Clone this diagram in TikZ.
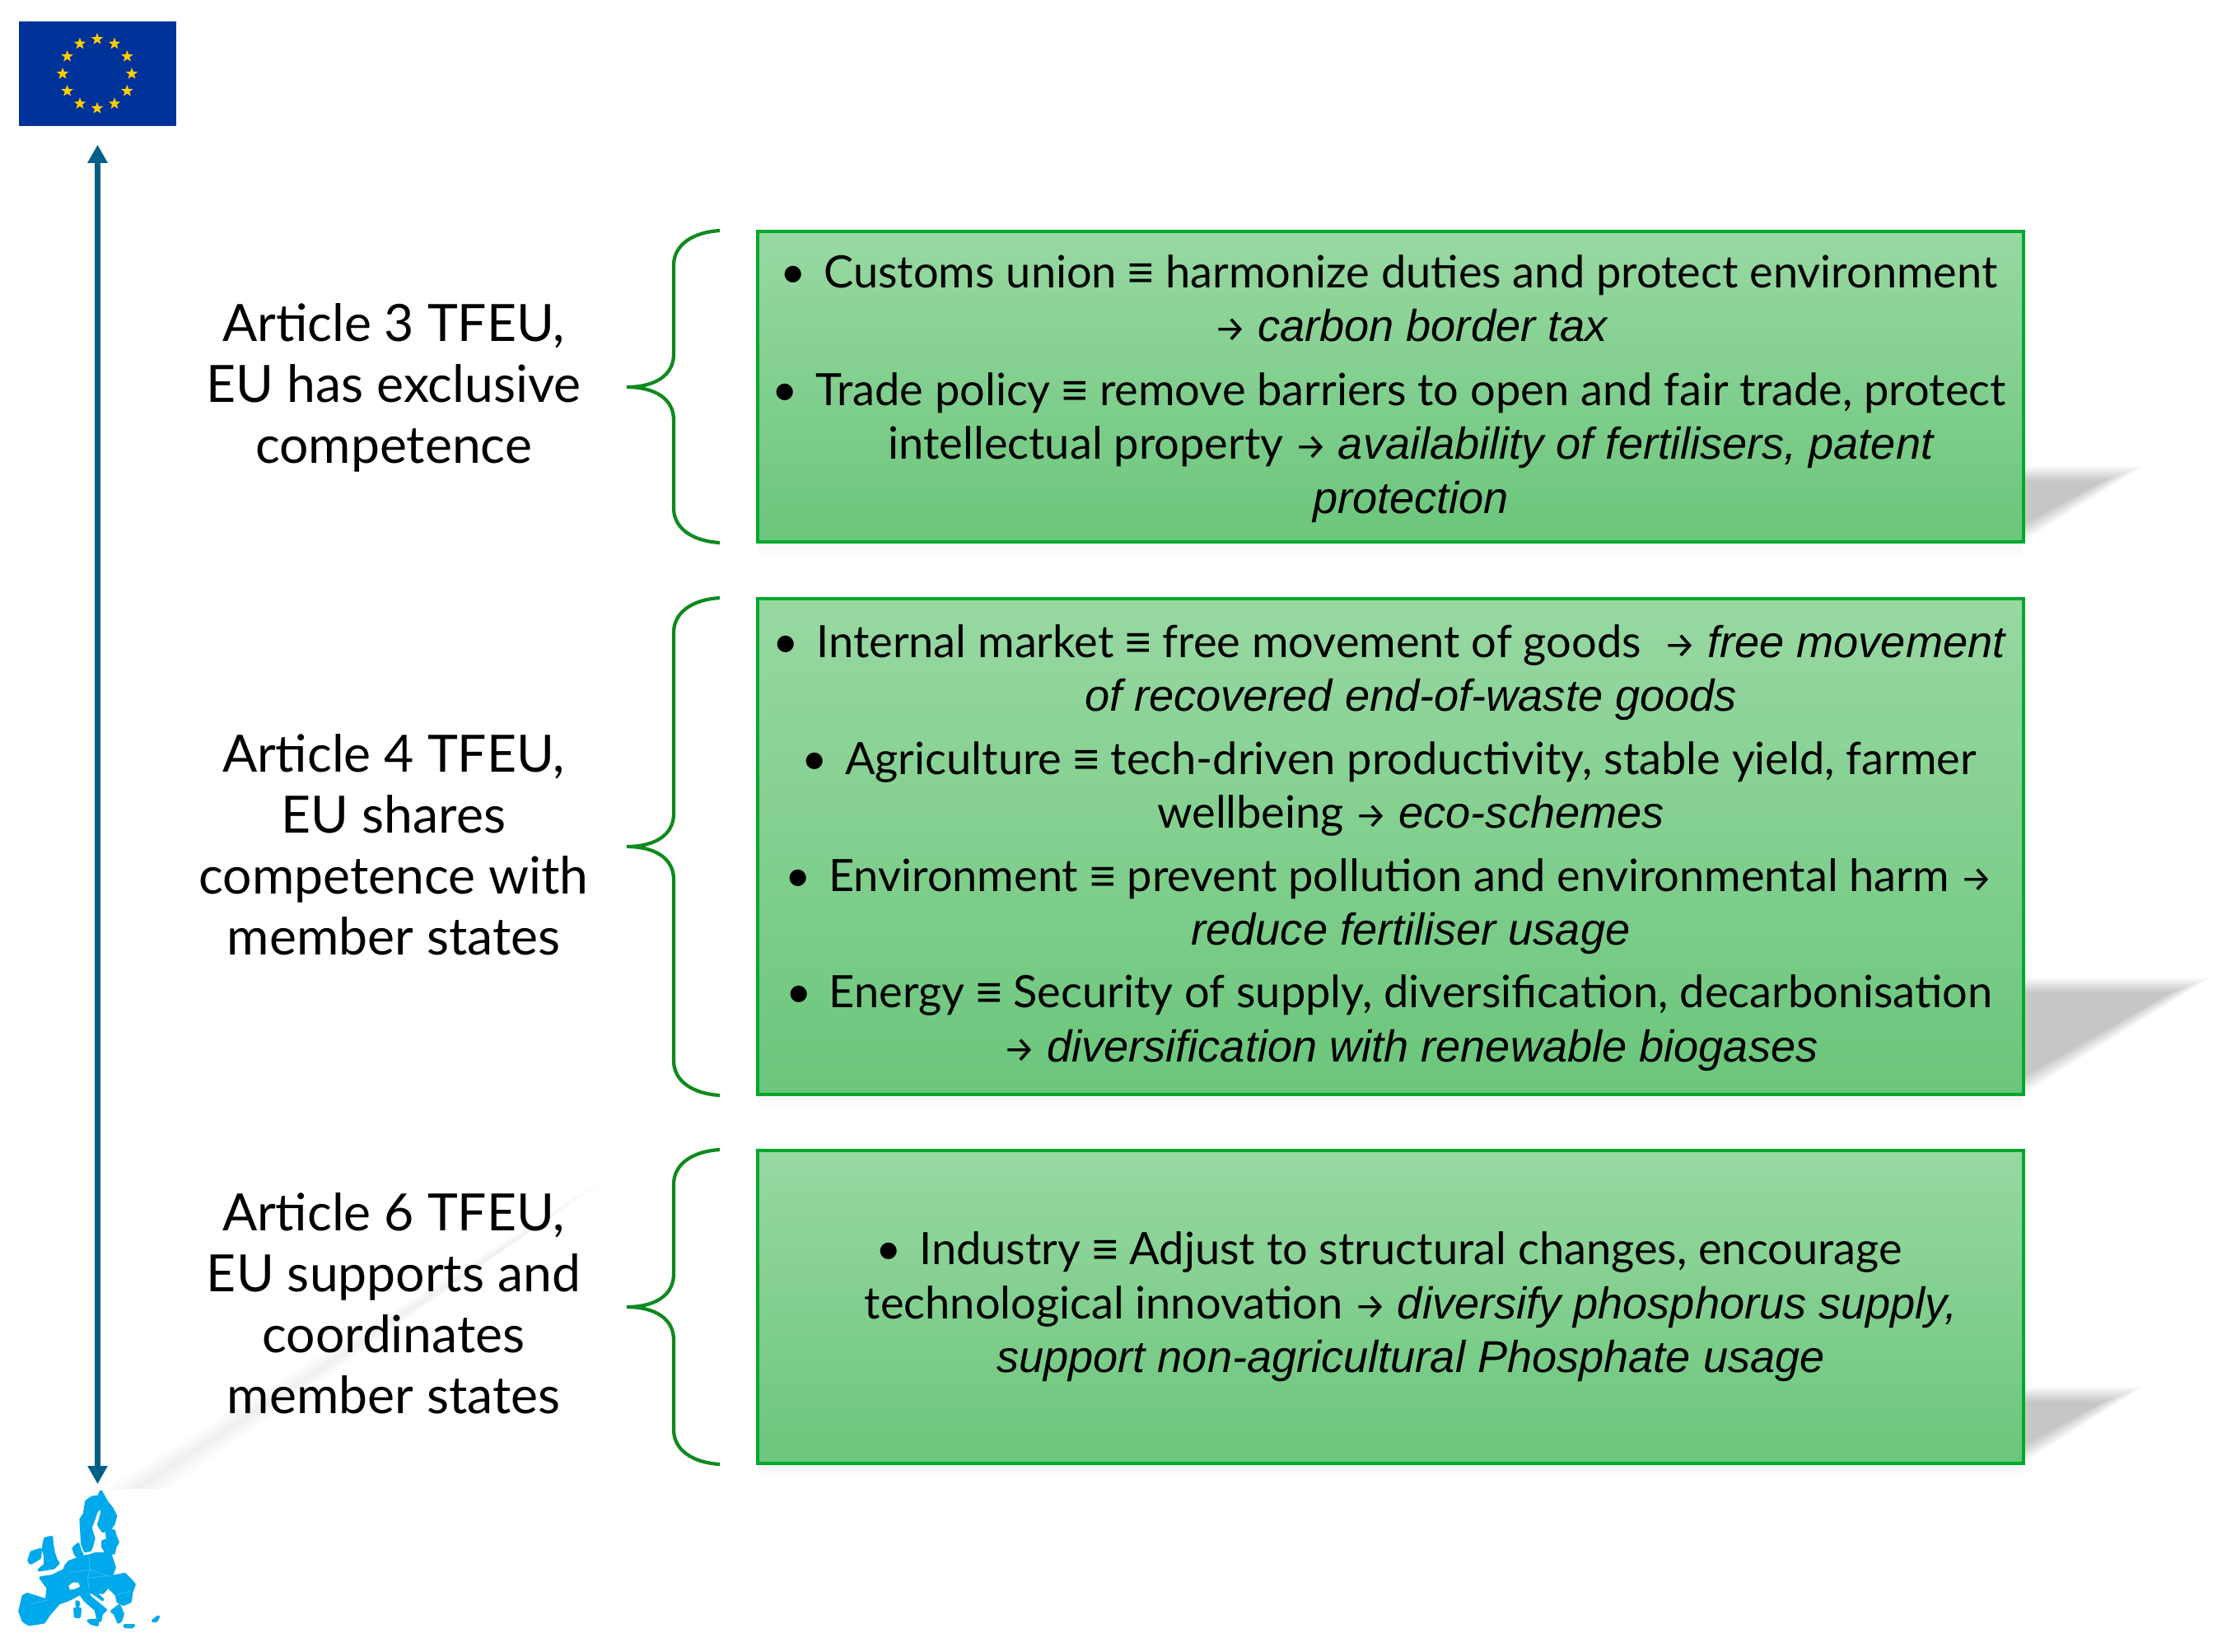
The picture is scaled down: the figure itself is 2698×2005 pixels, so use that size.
\documentclass[tikz,border=0pt]{standalone}
\usepackage{fontspec}
\setmainfont{Lato}
\newfontfamily\itfont{Liberation Sans}
\newfontfamily\arrowfont{Fira Sans}
\newcommand{\cons}[1]{{\itfont\itshape #1}}
\newcommand{\equi}{{\itfont ≡}}
\newcommand{\impl}{\scalebox{.8}{\arrowfont →}}
\newcommand{\itm}{\leavevmode\llap{\textbullet\hspace{6pt}}\ignorespaces}
\usetikzlibrary{positioning, arrows.meta, shapes.geometric}

\definecolor{eublue}{HTML}{003399}
\definecolor{euyellow}{HTML}{FFCC00}
\definecolor{axisblue}{HTML}{005F86}
\definecolor{mapblue}{HTML}{00A8EC}
\definecolor{boxtop}{HTML}{98D8A2}
\definecolor{boxbot}{HTML}{6BC67B}
\definecolor{boxline}{HTML}{00A82D}
\definecolor{braceline}{HTML}{0E8A1E}

\begin{document}
\begin{tikzpicture}[
    x=0.01cm,
    y=-0.01cm,
    infobox/.style={rectangle, draw=boxline, line width=1.1pt, top color=boxtop, bottom color=boxbot, minimum width=15.36cm, inner sep=0pt},
    boxtext/.style={align=center, font=\fontsize{15.4}{18.6}\selectfont, inner sep=0pt},
    article/.style={align=center, font=\fontsize{17.75}{21.05}\selectfont, inner sep=0pt},
    cbrace/.style={draw=braceline, line width=1.2pt},
    starmark/.style={star, star points=5, star point ratio=2.4, fill=euyellow, minimum size=0.15cm, inner sep=0pt},
    mapfill/.style={fill=mapblue, draw=mapblue, line width=1pt, line join=round},
    mapline/.style={draw=white!35!mapblue, line width=0.15pt},
    axis/.style={{Triangle[length=0.22cm,width=0.23cm]}-{Triangle[length=0.22cm,width=0.23cm]}, draw=axisblue, line width=2.2pt}
  ]

  \useasboundingbox (0,0) rectangle (2698,2005);

  % shadows behind the boxes
  \foreach \tx/\ty/\by in {2590/578/659, 2672/1199/1330, 2590/1696/1778}{
    \foreach \k in {0,...,7}
      \fill[black, opacity=0.032] (2450,{\ty-11+2.4*\k}) -- ({\tx+10-6.5*\k},{\ty-11+2.4*\k}) -- (2450,{\by+2-3*\k}) -- cycle;
    \foreach \k in {3,6,9,12,15}
      \fill[black, opacity=0.009] (920,\by) rectangle (2456,\by+\k);
  }
  % faint streak next to the axis
  \foreach \k in {0,...,4}
    \fill[black, opacity=0.012] ({128+8*\k},1808) -- ({205-8*\k},1808) -- (730,{1434+\k});

  % --- BOXES ---
  \node[infobox, minimum height=3.76cm] (box1) at (1688.5,469.5) {};
  \node[infobox, minimum height=6.01cm] (box2) at (1688.5,1028) {};
  \node[infobox, minimum height=3.79cm] (box3) at (1688.5,1587) {};

  % --- BOX TEXTS ---
  \node[boxtext] (txt1) at (1713,472) {
    \itm Customs union \equi{} harmonize duties and protect environment\\
    \impl{} \cons{carbon border tax}\\[3.4pt]
    \itm Trade policy \equi{} remove barriers to open and fair trade, protect\\
    intellectual property \impl{} \cons{availability of fertilisers, patent}\\
    \cons{protection}
  };
  \node[boxtext] (txt2) at (1713,1029.5) {
    \itm Internal market \equi{} free movement of goods\ \ \impl{} \cons{free movement}\\
    \cons{of recovered end-of-waste goods}\\[3.1pt]
    \itm Agriculture \equi{} tech-driven productivity, stable yield, farmer\\
    wellbeing \impl{} \cons{eco-schemes}\\[3.1pt]
    \itm Environment \equi{} prevent pollution and environmental harm \impl{}\\
    \cons{reduce fertiliser usage}\\[3.1pt]
    \itm Energy \equi{} Security of supply, diversification, decarbonisation\\
    \impl{} \cons{diversification with renewable biogases}
  };
  \node[boxtext] (txt3) at (1713,1587) {
    \itm Industry \equi{} Adjust to structural changes, encourage\\
    technological innovation \impl{} \cons{diversify phosphorus supply,}\\
    \cons{support non-agricultural Phosphate usage}
  };

  % --- BRACES ---
  \foreach \t/\m/\b in {280/470/659, 726/1028/1330, 1396/1587/1778}{
    \draw[cbrace] (874,\t) .. controls (840,\t+2) and (818,\t+18) .. (818,\t+42)
      -- (818,\m-40) .. controls (818,\m-14) and (795,\m) .. (761,\m)
      .. controls (795,\m) and (818,\m+14) .. (818,\m+40)
      -- (818,\b-42) .. controls (818,\b-18) and (840,\b-2) .. (874,\b);
  }

  % --- ARTICLE LABELS ---
  \node[article] (art3) at (478,471) {Article 3 TFEU,\\EU has exclusive\\competence};
  \node[article] (art4) at (478,1026) {Article 4 TFEU,\\EU shares\\competence with\\member states};
  \node[article] (art6) at (478,1583) {Article 6 TFEU,\\EU supports and\\coordinates\\member states};

  % --- FLAG ---
  \node[rectangle, fill=eublue, minimum width=1.91cm, minimum height=1.27cm, inner sep=0pt] (flag) at (118.5,89.5) {};
  \foreach \i in {1,...,12}
    \node[starmark] (star\i) at ({118+42*cos(30*\i)},{89.5+42*sin(30*\i)}) {};

  % --- MAP ---
  \begin{scope}[shift={(10,1800)}, x=0.00333cm, y=-0.00333cm]
    \coordinate (maptop) at (327,6);
    % Scandinavia
    \path[mapfill] (338,33) -- (345,45) -- (358,70) -- (378,95) -- (392,122) -- (385,150) -- (370,172) -- (345,178) -- (330,155) -- (340,120) -- (343,100) -- (330,95) -- (320,110) -- (312,135) -- (300,165) -- (312,205) -- (305,232) -- (298,248) -- (280,250) -- (270,225) -- (265,135) -- (278,115) -- (285,70) -- (305,55) -- (330,52) -- cycle;
    % Baltics
    \path[mapfill] (360,178) -- (385,176) -- (392,200) -- (400,218) -- (390,235) -- (385,258) -- (360,258) -- (345,235) -- (345,215) -- (362,210) -- cycle;
    \path[mapfill] (238,240) -- (255,225) -- (262,250) -- (270,262) -- (255,272) -- (245,262) -- cycle;
    % Britain and Ireland
    \path[mapfill] (135,205) -- (158,200) -- (160,225) -- (165,255) -- (175,285) -- (183,295) -- (165,312) -- (112,320) -- (135,300) -- (135,270) -- (128,245) -- (130,225) -- cycle;
    \path[mapfill] (85,255) -- (118,245) -- (115,275) -- (82,295) -- (75,285) -- cycle;
    % Continent
    \path[mapfill] (210,305) -- (222,290) -- (270,272) -- (295,268) -- (320,260) -- (372,262) -- (388,310) -- (375,345) -- (425,335) -- (445,355) -- (460,372) -- (450,400) -- (445,435) -- (420,445) -- (400,435) -- (395,410) -- (365,380) -- (345,402) -- (315,400) -- (345,428) -- (308,402) -- (285,398) -- (300,420) -- (355,465) -- (340,480) -- (335,505) -- (325,490) -- (320,465) -- (280,430) -- (262,405) -- (245,415) -- (215,430) -- (185,440) -- (150,480) -- (130,510) -- (100,515) -- (75,518) -- (55,505) -- (42,470) -- (55,415) -- (70,408) -- (140,430) -- (145,385) -- (118,348) -- (160,342) -- (205,320) -- cycle;
    \path[fill=white] (220,378) -- (235,365) -- (255,365) -- (262,380) -- (240,390) -- (225,392) -- cycle;
    % islands
    \path[mapfill] (378,470) -- (405,450) -- (418,480) -- (410,505) -- (402,510) -- (390,480) -- cycle;
    \path[mapfill] (292,505) -- (325,502) -- (325,520) -- (305,515) -- cycle;
    \path[mapfill] (243,462) -- (262,462) -- (260,490) -- (245,490) -- cycle;
    \path[mapfill] (250,435) -- (258,440) -- (252,458) -- cycle;
    \path[mapfill] (528,505) -- (548,490) -- (540,505) -- cycle;
    \path[mapfill] (425,522) -- (458,522) -- (450,528) -- (425,526) -- cycle;
    % borders
    \draw[mapline] (295,268) -- (298,318) -- (290,350) -- (295,395);
    \draw[mapline] (222,330) -- (298,318) -- (375,345);
    \draw[mapline] (140,430) -- (80,445);
    \draw[mapline] (290,350) -- (370,340);
    \draw[mapline] (395,410) -- (450,395);
  \end{scope}

  % --- AXIS ---
  \draw[axis, shorten <=0.22cm] (flag.south) -- (flag.south |- maptop);

\end{tikzpicture}
\end{document}
